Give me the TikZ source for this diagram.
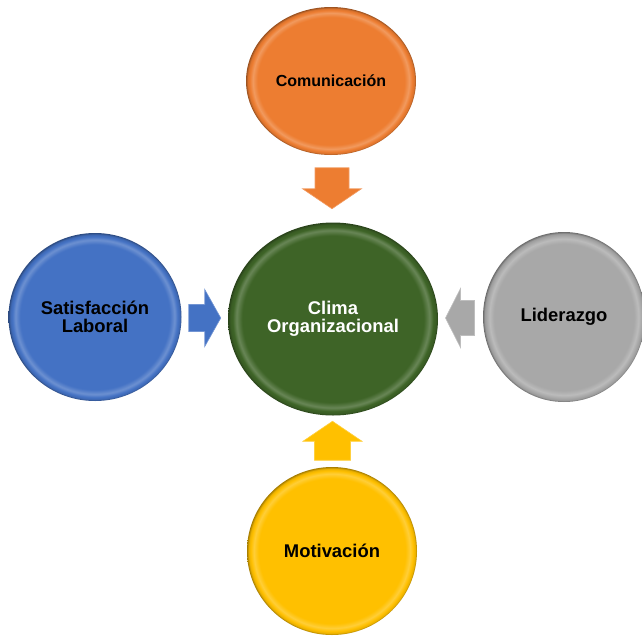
\documentclass[tikz,border=0pt]{standalone}
\usepackage{fontspec}
\setmainfont{Liberation Sans}
\usepackage{tikz}
\usetikzlibrary{positioning,calc,shapes.geometric}

\definecolor{naranja}{HTML}{ED7D31}
\definecolor{azul}{HTML}{4472C4}
\definecolor{gris}{HTML}{A8A8A8}
\definecolor{amarillo}{HTML}{FFC000}
\definecolor{verde}{HTML}{3E6427}
\colorlet{base}{gris}

\pgfdeclareradialshading[base]{bisel}{\pgfpoint{0bp}{0bp}}{%
  color(0bp)=(base); color(21.6bp)=(base);
  color(23bp)=(base!78!white); color(23.9bp)=(base);
  color(24.5bp)=(base!92!black); color(25bp)=(base!65!black);
  color(50bp)=(base!65!black)}

\begin{document}
\begin{tikzpicture}[
    x=1pt, y=-1pt,
    burbuja/.style = {
      ellipse,
      shade,
      shading = bisel,
      /utils/exec = {\colorlet{base}{#1}},
      inner sep = 0pt,
      outer sep = 0pt,
      align = center,
      font = \bfseries\fontsize{18.4}{18.5}\selectfont
    },
    flecha/.style = {
      fill = #1,
      draw = #1!75!white,
      line width = .6pt,
      line join = miter
    }
  ]
  \useasboundingbox (0,0) rectangle (642,637);

  \node[burbuja=verde, text=white, minimum width=210pt, minimum height=193pt]
    (clima) at (333,319) {Clima\\Organizacional};
  \node[burbuja=naranja, minimum width=170pt, minimum height=148pt,
        font=\bfseries\fontsize{16}{18}\selectfont]
    (com) at (331,81) {Comunicación};
  \node[burbuja=azul, minimum width=173pt, minimum height=168pt]
    (sat) at (95,317) {Satisfacción\\Laboral};
  \node[burbuja=gris, minimum width=162pt, minimum height=170pt]
    (lid) at (564,317) {Liderazgo};
  \node[burbuja=amarillo, minimum width=170pt, minimum height=168pt]
    (mot) at (332,551) {Motivación};

  % flechas hacia el centro
  \coordinate (fcom) at ($(com.south)!.5!(clima.north)$);
  \coordinate (fsat) at ($(sat.east)!.5!(clima.west)$);
  \coordinate (flid) at ($(lid.west)!.5!(clima.east)$);
  \coordinate (fmot) at ($(mot.north)!.5!(clima.south)$);

  \draw[flecha=naranja, shift={(fcom)}, rotate=-90]
    (-21,-17) -- (0,-17) -- (0,-29.5) -- (20,0) -- (0,29.5) -- (0,17) -- (-21,17) -- cycle;
  \draw[flecha=azul, shift={(fsat)}, rotate=0]
    (-16,-13.5) -- (0,-13.5) -- (0,-28.5) -- (16,0) -- (0,28.5) -- (0,13.5) -- (-16,13.5) -- cycle;
  \draw[flecha=gris, shift={(flid)}, rotate=180]
    (-14,-17.5) -- (0,-17.5) -- (0,-29.5) -- (15,0) -- (0,29.5) -- (0,17.5) -- (-14,17.5) -- cycle;
  \draw[flecha=amarillo, shift={(fmot)}, rotate=90]
    (-19,-18) -- (0,-18) -- (0,-29.5) -- (20,0) -- (0,29.5) -- (0,18) -- (-19,18) -- cycle;
\end{tikzpicture}
\end{document}
